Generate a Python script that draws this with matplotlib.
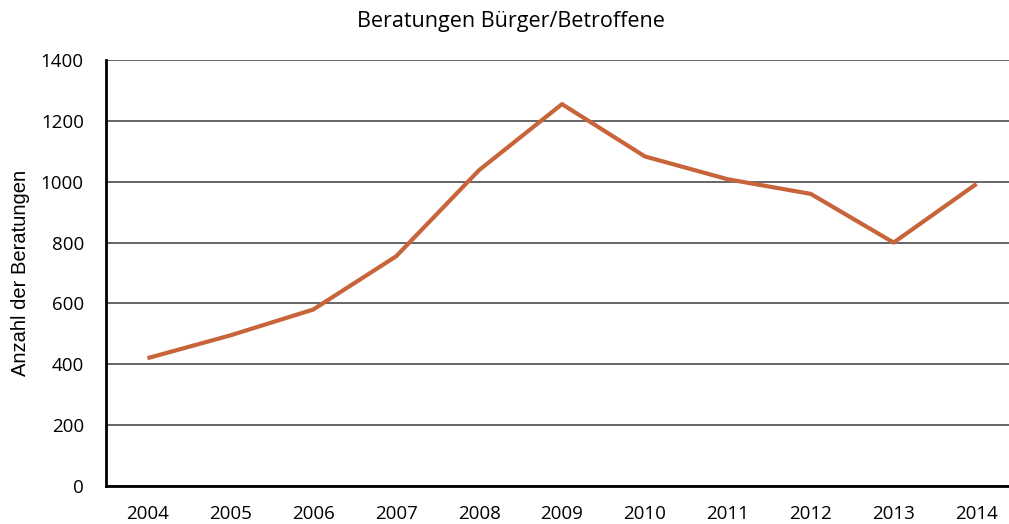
import matplotlib
matplotlib.use("Agg")
import matplotlib.pyplot as plt

years = ["2004", "2005", "2006", "2007", "2008", "2009", "2010", "2011", "2012", "2013", "2014"]
beratungen = [420, 495, 580, 755, 1038, 1255, 1083, 1008, 960, 800, 993]
yticks = [0, 200, 400, 600, 800, 1000, 1200, 1400]

plt.rcParams['font.family'] = ['Open Sans', 'DejaVu Sans']

fig = plt.figure(figsize=(10.09, 5.24), dpi=100)
ax = fig.add_axes([106/1009, 38/524, 912/1009, 426/524])

x = list(range(len(years)))
ax.plot(x, beratungen, color='#C8643A', lw=3.0, solid_capstyle='butt', zorder=3)

ax.set_xlim(-0.5, len(years) - 0.5)
ax.set_ylim(0, 1400)
ax.set_yticks(yticks)
ax.set_xticks(x)
ax.set_xticklabels(years)
ax.yaxis.grid(True, color='#595959', lw=1.3)
ax.set_axisbelow(True)
ax.tick_params(axis='both', length=0, labelsize=13.5)
ax.tick_params(axis='y', pad=16)
ax.tick_params(axis='x', pad=14)
for s in ['top', 'right']:
    ax.spines[s].set_visible(False)
for s in ['left', 'bottom']:
    ax.spines[s].set_color('black')
    ax.spines[s].set_linewidth(2)

ax.set_ylabel('Anzahl der Beratungen', fontsize=14.5, labelpad=8,
              family=['Liberation Sans', 'DejaVu Sans'])
fig.text(511/1009, 1 - 22/524, 'Beratungen Bürger/Betroffene', ha='center', va='center', fontsize=15.5)

fig.savefig('out.png', dpi=100)
